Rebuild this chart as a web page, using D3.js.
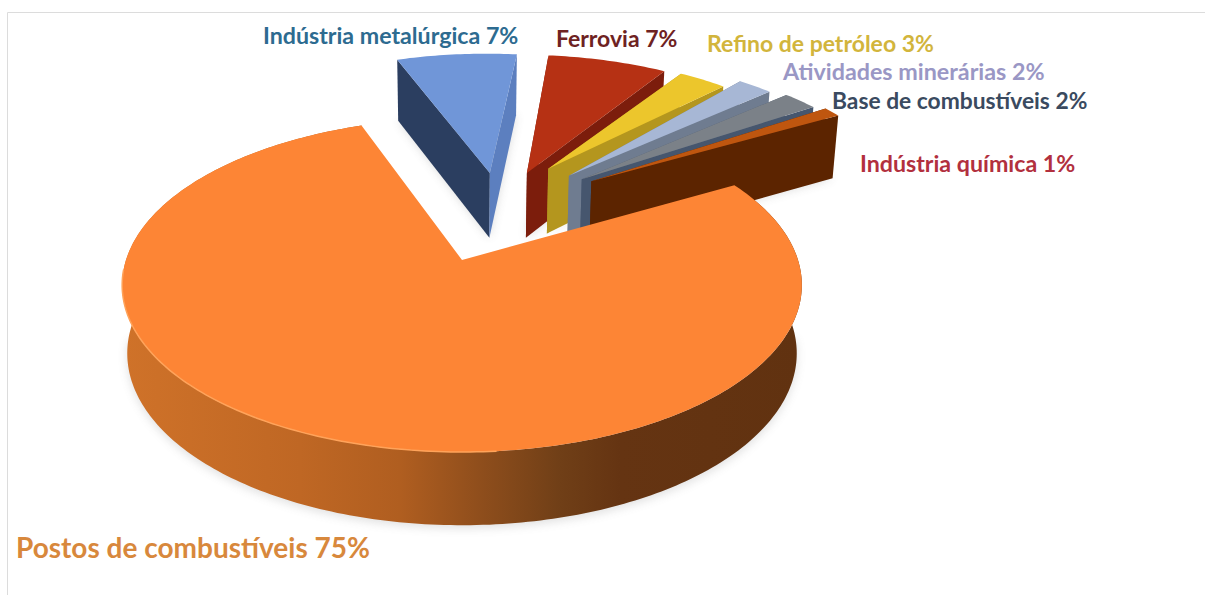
<!DOCTYPE html>
<html lang="pt">
<head>
<meta charset="utf-8">
<title>Distribuição por setor</title>
<script src="https://cdn.jsdelivr.net/npm/d3@7"></script>
<style>
  html, body { margin: 0; padding: 0; background: #fff; }
  svg { display: block; }
  text { font-family: Lato, "Open Sans", sans-serif; font-weight: 700; }
</style>
</head>
<body>
<div id="chart"></div>
<script>
// Percentual por setor
const categories = [
  "Postos de combustíveis",
  "Indústria metalúrgica",
  "Ferrovia",
  "Refino de petróleo",
  "Atividades minerárias",
  "Base de combustíveis",
  "Indústria química"
];
const shares = [75, 7, 7, 3, 2, 2, 1];

// Aparência de cada fatia: topo, face esquerda, face direita, cor do rótulo
const topColors   = ["#fd8535", "#7096d8", "#b63114", "#ecc62c", "#a7b7d5", "#7b8188", "#bf560f"];
const leftColors  = ["#c46a26", "#2b3e60", "#7c1d0c", "#b4961e", "#6f7c90", "#4f5f76", "#5c2400"];
const rightColors = ["#c46a26", "#5c7fbf", "#7c1d0c", "#b4961e", "#6f7c90", "#46566e", "#5c2400"];
const labelColors = ["#d8883c", "#2d6b90", "#6e2222", "#d2b53c", "#9a97c5", "#3a4a60", "#b2303e"];

// Deslocamento de cada fatia no plano do disco, alcance do raio e giro fino em graus
const offsetU = [0, 0.09, 0.21, 0.28, 0.345, 0.385, 0.415];
const offsetV = [0, -0.58, -0.58, -0.61, -0.56, -0.535, -0.52];
const reach   = [1, 0.98, 0.97, 0.92, 0.99, 1, 1.01];
const turnDeg = [0, 1.7, 1.5, 2.6, -1.2, -0.5, -0.3];

// Rótulos: âncora esquerda, linha de base e corpo
const labelX    = [16, 263, 556, 707, 783, 832, 860];
const labelY    = [558, 44, 47, 52, 80, 109, 172];
const labelSize = [28, 23.2, 23, 23, 23.3, 22.8, 23.2];

const width = 1205, height = 595;
const centerX = 462, centerY = 260;
const axisU = 336, axisV = 163.2, tilt = 0.15;
const depth = 67.5, taper = 0.985;

// Projeção em perspectiva do plano do disco para a tela
const projectTop = ([u, v]) => {
  const w = 1 - tilt * v;
  return [centerX + axisU * u / w, centerY + axisV * v / w];
};
const projectBottom = ([u, v]) => {
  const w = 1 - tilt * v;
  const [x, y] = projectTop([u, v]);
  return [centerX + (x - centerX) * taper, y + depth / Math.sqrt(w)];
};

const startDeg = 60.5;
const discCloseDeg = 1.2;
const pie = d3.pie().sort(null)
  .startAngle(startDeg * Math.PI / 180)
  .endAngle((startDeg + 360) * Math.PI / 180);
const arcs = pie(shares).map((a, i) => ({
  ...a,
  startAngle: a.startAngle + turnDeg[i] * Math.PI / 180,
  endAngle: a.endAngle + (i === 0 ? discCloseDeg : turnDeg[i]) * Math.PI / 180
}));

const line = d3.line().curve(d3.curveLinear);

// Contorno externo da fatia i entre dois ângulos
const rim = (i, a0, a1) => {
  const n = Math.max(4, Math.ceil(Math.abs(a1 - a0) * 60));
  return d3.range(n + 1).map(k => {
    const t = a0 + (a1 - a0) * k / n;
    return [offsetU[i] + reach[i] * Math.sin(t), offsetV[i] - reach[i] * Math.cos(t)];
  });
};
const apex = i => [offsetU[i], offsetV[i]];

const svg = d3.select("#chart").append("svg")
  .attr("width", width).attr("height", height)
  .attr("viewBox", `0 0 ${width} ${height}`);

const defs = svg.append("defs");
defs.append("filter").attr("id", "soft")
  .attr("x", "-15%").attr("y", "-15%").attr("width", "130%").attr("height", "130%")
  .append("feGaussianBlur").attr("stdDeviation", 5);

// Parede lateral do disco: escurece da esquerda para a direita
const wallStops = [
  [125, "#cf7229"], [300, "#bf6724"], [400, "#b05e20"], [480, "#8f4e1c"],
  [560, "#703f17"], [620, "#653412"], [800, "#613210"]
];
const wallGrad = defs.append("linearGradient").attr("id", "wall")
  .attr("gradientUnits", "userSpaceOnUse")
  .attr("x1", 125).attr("x2", 800).attr("y1", 0).attr("y2", 0);
wallGrad.selectAll("stop").data(wallStops).join("stop")
  .attr("offset", d => (d[0] - 125) / 675).attr("stop-color", d => d[1]);

// Moldura clara em volta da área do gráfico
svg.append("path")
  .attr("d", "M7.5,595V12.5H1205")
  .attr("fill", "none").attr("stroke", "#dcdcdc").attr("stroke-width", 1);

const exploded = d3.range(1, shares.length);

// Sombras difusas sob as peças
const shadows = svg.append("g").attr("filter", "url(#soft)").attr("opacity", 0.2);
exploded.forEach(i => {
  const a = arcs[i];
  shadows.append("path").attr("fill", "#555").attr("d", line([
    projectBottom(apex(i)),
    ...rim(i, a.startAngle, a.endAngle).map(projectBottom)
  ]) + "Z");
});
{
  const a = arcs[0];
  const near = rim(0, a.startAngle, a.endAngle).filter(p => p[1] > 0.05);
  shadows.append("path").attr("fill", "#666")
    .attr("d", line(near.map(p => {
      const [x, y] = projectBottom(p);
      return [x, y + 3];
    })) + "Z");
}

// Fatias destacadas, de trás para a frente
exploded.forEach(i => {
  const a = arcs[i];
  const g = svg.append("g").attr("class", "slice");
  const [s, e] = [a.startAngle, a.endAngle];
  const outer = rim(i, s, e);
  const p0 = outer[0], p1 = outer[outer.length - 1], c = apex(i);

  g.append("path").attr("fill", leftColors[i]).attr("d", line([
    projectTop(c), projectTop(p0), projectBottom(p0), projectBottom(c)
  ]) + "Z");
  g.append("path").attr("fill", rightColors[i]).attr("d", line([
    projectTop(c), projectTop(p1), projectBottom(p1), projectBottom(c)
  ]) + "Z");
  g.append("path").attr("fill", topColors[i]).attr("d", line([
    projectTop(c), ...outer.map(projectTop)
  ]) + "Z");
});

// Disco principal
{
  const a = arcs[0];
  const outer = rim(0, a.startAngle, a.endAngle);
  const g = svg.append("g").attr("class", "slice");
  g.append("path").attr("fill", "url(#wall)").attr("d", line([
    ...outer.map(projectTop),
    ...outer.slice().reverse().map(projectBottom)
  ]) + "Z");
  g.append("path").attr("fill", topColors[0]).attr("d", line([
    projectTop(apex(0)), ...outer.map(projectTop)
  ]) + "Z");
  // Brilho da borda apenas no lado iluminado
  g.append("path").attr("fill", "none").attr("stroke", "#ffa35a").attr("stroke-width", 1.5)
    .attr("d", line(outer.filter(p => p[1] > 0.05 && p[0] < 0.1).map(projectTop)));
}

// Rótulos com setor e percentual
svg.append("g").selectAll("text").data(categories).join("text")
  .attr("x", (d, i) => labelX[i])
  .attr("y", (d, i) => labelY[i])
  .attr("font-size", (d, i) => labelSize[i])
  .attr("fill", (d, i) => labelColors[i])
  .text((d, i) => `${d} ${shares[i]}%`);
</script>
</body>
</html>
